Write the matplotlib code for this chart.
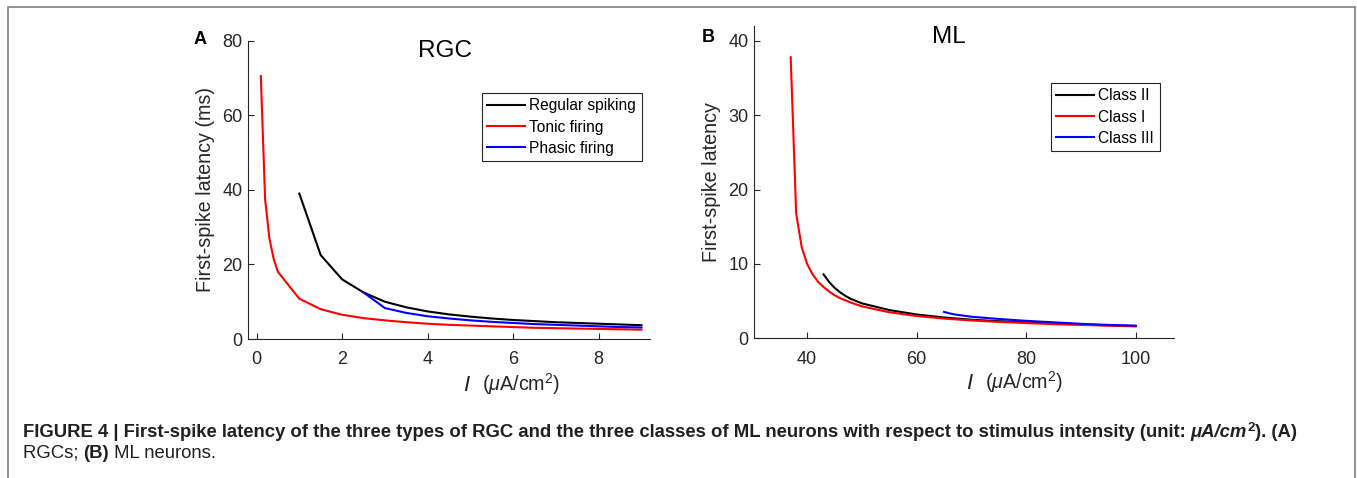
import matplotlib
matplotlib.use('Agg')
import matplotlib.pyplot as plt
from matplotlib.patches import Rectangle

plt.rcParams['font.family'] = ['Liberation Sans', 'DejaVu Sans']
plt.rcParams['mathtext.fontset'] = 'custom'
plt.rcParams['mathtext.rm'] = 'Liberation Sans'
plt.rcParams['mathtext.it'] = 'Liberation Sans:italic'
plt.rcParams['mathtext.bf'] = 'Liberation Sans:bold'

# RGC model: stimulus current (uA/cm^2) vs first-spike latency (ms)
rgc_regular_I = [1, 1.5, 2, 2.5, 3, 3.5, 4, 4.5, 5, 5.5, 6, 6.5, 7, 7.5, 8, 8.5, 9]
rgc_regular_lat = [39, 22.5, 16, 12.5, 10, 8.5, 7.4, 6.6, 6.0, 5.5, 5.1, 4.8, 4.5, 4.3, 4.1, 3.9, 3.7]

rgc_tonic_I = [0.1, 0.2, 0.3, 0.4, 0.5, 1, 1.5, 2, 2.5, 3, 3.5, 4, 4.5, 5, 5.5, 6, 6.5, 7, 7.5, 8, 8.5, 9]
rgc_tonic_lat = [70.5, 37.5, 27, 21.5, 18, 10.8, 8.0, 6.5, 5.6, 5.0, 4.5, 4.1, 3.8, 3.6, 3.4, 3.2,
                 3.0, 2.9, 2.8, 2.7, 2.6, 2.5]

rgc_phasic_I = [2.5, 3, 3.5, 4, 4.5, 5, 5.5, 6, 6.5, 7, 7.5, 8, 8.5, 9]
rgc_phasic_lat = [12.5, 8.3, 7.0, 6.1, 5.5, 5.0, 4.6, 4.3, 4.0, 3.8, 3.6, 3.4, 3.2, 3.1]

# Morris-Lecar model
ml_class2_I = [43, 44, 45, 46, 47, 48, 50, 55, 60, 65, 70, 75, 80, 85, 90, 95, 100]
ml_class2_lat = [8.6, 7.6, 6.8, 6.2, 5.7, 5.3, 4.7, 3.8, 3.2, 2.8, 2.5, 2.3, 2.15, 2.0, 1.85, 1.75, 1.65]

ml_class1_I = [37, 38, 39, 40, 41, 42, 43, 44, 45, 46, 47, 48, 50, 55, 60, 65, 70, 75, 80, 85, 90, 95, 100]
ml_class1_lat = [37.8, 16.8, 12.3, 10.0, 8.6, 7.6, 6.9, 6.3, 5.8, 5.4, 5.1, 4.8, 4.3, 3.5, 3.0,
                 2.65, 2.4, 2.2, 2.05, 1.9, 1.8, 1.7, 1.6]

ml_class3_I = [65, 66, 67, 68, 70, 75, 80, 85, 90, 95, 100]
ml_class3_lat = [3.55, 3.35, 3.2, 3.1, 2.9, 2.6, 2.35, 2.15, 1.95, 1.8, 1.7]

AX_COLOR = '#262626'
W, H = 1357, 478

fig = plt.figure(figsize=(W / 100, H / 100), dpi=100)


def px_box(left, top, right, bottom):
    return [left / W, 1 - bottom / H, (right - left) / W, (bottom - top) / H]


def style_axes(ax):
    for s in ['top', 'right']:
        ax.spines[s].set_visible(False)
    for s in ['left', 'bottom']:
        ax.spines[s].set_color(AX_COLOR)
        ax.spines[s].set_linewidth(0.8)
    ax.tick_params(direction='in', length=4, width=0.8, color=AX_COLOR,
                   labelcolor=AX_COLOR, labelsize=13)
    ax.tick_params(axis='x', pad=9)
    ax.tick_params(axis='y', pad=4)


def legend(ax, anchor):
    leg = ax.legend(loc='upper left', bbox_to_anchor=anchor, bbox_transform=fig.transFigure,
                    fontsize=11.2, frameon=True, fancybox=False, framealpha=1,
                    edgecolor=AX_COLOR, handlelength=2.4, handletextpad=0.3,
                    labelspacing=0.4, borderpad=0.35, borderaxespad=0)
    leg.get_frame().set_linewidth(0.8)


# panel A
axA = fig.add_axes(px_box(248, 40.7, 650, 339))
axA.plot(rgc_regular_I, rgc_regular_lat, color='black', lw=1.5, label='Regular spiking')
axA.plot(rgc_tonic_I, rgc_tonic_lat, color='red', lw=1.5, label='Tonic firing')
axA.plot(rgc_phasic_I, rgc_phasic_lat, color='blue', lw=1.5, label='Phasic firing')
axA.set_xlim(-0.2, 9.2)
axA.set_ylim(0, 80)
axA.set_xticks([0, 2, 4, 6, 8])
axA.set_yticks([0, 20, 40, 60, 80])
style_axes(axA)
axA.set_ylabel('First-spike latency (ms)', fontsize=14.2, color=AX_COLOR, labelpad=5)
legend(axA, (482 / W, 1 - 93 / H))

# panel B
axB = fig.add_axes(px_box(754, 26, 1174, 338.3))
axB.plot(ml_class2_I, ml_class2_lat, color='black', lw=1.5, label='Class II')
axB.plot(ml_class1_I, ml_class1_lat, color='red', lw=1.5, label='Class I')
axB.plot(ml_class3_I, ml_class3_lat, color='blue', lw=1.5, label='Class III')
axB.set_xlim(30.3, 107)
axB.set_ylim(0, 42)
axB.set_xticks([40, 60, 80, 100])
axB.set_yticks([0, 10, 20, 30, 40])
style_axes(axB)
axB.set_ylabel('First-spike latency', fontsize=14.2, color=AX_COLOR, labelpad=5)
legend(axB, (1051 / W, 1 - 83 / H))

# titles, panel letters and x labels in figure pixels
def ftext(x, y, s, **kw):
    return fig.text(x / W, 1 - y / H, s, **kw)


ftext(445, 51, 'RGC', fontsize=17.5, ha='center', va='center')
ftext(949, 37, 'ML', fontsize=17.5, ha='center', va='center')
ftext(200, 39, 'A', fontsize=13, fontweight='bold', ha='center', va='center')
ftext(708, 37, 'B', fontsize=13, fontweight='bold', ha='center', va='center')

ftext(463, 391, r'$I$', fontsize=16, color=AX_COLOR, ha='left', va='baseline')
ftext(482, 391, r'($\mu$A/cm$^2$)', fontsize=14.2, color=AX_COLOR, ha='left', va='baseline')
ftext(966, 389, r'$I$', fontsize=16, color=AX_COLOR, ha='left', va='baseline')
ftext(985, 389, r'($\mu$A/cm$^2$)', fontsize=14.2, color=AX_COLOR, ha='left', va='baseline')

# caption, drawn piece by piece so bold / italic runs line up
renderer = fig.canvas.get_renderer()
CAP = '#231f20'


def run(x, y, pieces, size):
    for s, kw in pieces:
        kw = dict(kw)
        dy = kw.pop('dy', 0)
        fs = kw.pop('fs', size)
        t = ftext(x, y - dy, s, fontsize=fs, color=CAP, ha='left', va='baseline', **kw)
        x += t.get_window_extent(renderer).width


B = {'fontweight': 'bold'}
BI = {'fontweight': 'bold', 'fontstyle': 'italic'}
run(23, 437, [('FIGURE 4 | First-spike latency of the three types of RGC and the three classes of '
               'ML neurons with respect to stimulus intensity (unit: ', B),
              ('\u03bcA/cm', BI), ('2', dict(B, dy=6, fs=9.5)), ('). (A)', B)], 13.3)
run(23, 458, [('RGCs; ', {}), ('(B)', B), (' ML neurons.', {})], 13.3)

# frame round the figure
fig.patches.append(Rectangle((7.5 / W, -0.1), (1355 - 7.5) / W, 1.1 - 6.5 / H,
                             transform=fig.transFigure, fill=False,
                             edgecolor='#808080', lw=1.2))

fig.savefig('out.png', dpi=100)
